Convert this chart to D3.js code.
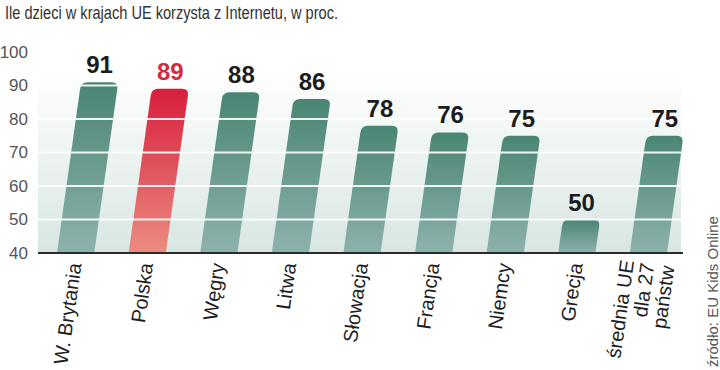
<!DOCTYPE html>
<html>
<head>
<meta charset="utf-8">
<script src="https://cdn.jsdelivr.net/npm/d3@7"></script>
<style>
  html, body { margin: 0; padding: 0; background: #fff; }
  svg { display: block; }
</style>
</head>
<body>
<svg id="chart" width="720" height="370"></svg>
<script>
const title = "Ile dzieci w krajach UE korzysta z Internetu, w proc.";
const categories = ["W. Brytania", "Polska", "Węgry", "Litwa", "Słowacja", "Francja", "Niemcy", "Grecja", "średnia UE\ndla 27\npaństw"];
const values = [91, 89, 88, 86, 78, 76, 75, 50, 75];
const highlight = ["Polska"];
const yTicks = [40, 50, 60, 70, 80, 90, 100];
const gridValues = [50, 60, 70, 80, 90];
const source = "źródło: EU Kids Online";

const svg = d3.select("#chart");
const skewDeg = 8;
const tanS = Math.tan(skewDeg * Math.PI / 180);
const FONT = "Liberation Sans, Arial, sans-serif";

const y = d3.scaleLinear().domain([40, 100]).range([253, 52]);
const x = d3.scaleBand().domain(categories).range([57, 667]).paddingInner(0.48).paddingOuter(0);

const defs = svg.append("defs");
const bg = defs.append("linearGradient").attr("id", "bgGrad").attr("x1", 0).attr("y1", 0).attr("x2", 0).attr("y2", 1);
bg.append("stop").attr("offset", "0%").attr("stop-color", "#ffffff");
bg.append("stop").attr("offset", "100%").attr("stop-color", "#d8e6e2");

const gTeal = defs.append("linearGradient").attr("id", "tealGrad").attr("x1", 0).attr("y1", 0).attr("x2", 0).attr("y2", 1);
gTeal.append("stop").attr("offset", "0%").attr("stop-color", "#4a8574");
gTeal.append("stop").attr("offset", "100%").attr("stop-color", "#8db2ac");

const gRed = defs.append("linearGradient").attr("id", "redGrad").attr("x1", 0).attr("y1", 0).attr("x2", 0).attr("y2", 1);
gRed.append("stop").attr("offset", "0%").attr("stop-color", "#d81f3d");
gRed.append("stop").attr("offset", "100%").attr("stop-color", "#eb8c80");

// title
svg.append("text")
  .attr("x", 5).attr("y", 19)
  .attr("font-family", FONT)
  .attr("font-size", 19)
  .attr("fill", "#333")
  .attr("textLength", 333)
  .attr("lengthAdjust", "spacingAndGlyphs")
  .text(title);

// plot background
const plotL = 38, plotR = 681;
svg.append("rect")
  .attr("x", plotL).attr("y", y(95))
  .attr("width", plotR - plotL).attr("height", y(40) - y(95))
  .attr("fill", "url(#bgGrad)");

// bars
const yb = y(40);
const r = 6.5;
const barG = svg.append("g")
  .attr("transform", `translate(0,${yb}) skewX(${-skewDeg}) translate(0,${-yb})`);

barG.selectAll("path.bar")
  .data(categories)
  .join("path")
  .attr("class", "bar")
  .attr("fill", (d) => highlight.includes(d) ? "url(#redGrad)" : "url(#tealGrad)")
  .attr("d", (d, i) => {
    const x0 = x(d), w = x.bandwidth(), yt = y(values[i]);
    return `M${x0},${yb} L${x0},${yt + r} Q${x0},${yt} ${x0 + r},${yt} L${x0 + w - r},${yt} Q${x0 + w},${yt} ${x0 + w},${yt + r} L${x0 + w},${yb} Z`;
  });

// grid lines (over bars)
svg.append("g").selectAll("line")
  .data(gridValues)
  .join("line")
  .attr("x1", plotL).attr("x2", plotR)
  .attr("y1", (d) => y(d)).attr("y2", (d) => y(d))
  .attr("stroke", "#ffffff").attr("stroke-opacity", 0.9).attr("stroke-width", 2);

// baseline axis
svg.append("line")
  .attr("x1", plotL).attr("x2", 683)
  .attr("y1", yb).attr("y2", yb)
  .attr("stroke", "#2b2b2b").attr("stroke-width", 2);

// y axis labels
const yAxis = svg.append("g")
  .attr("transform", "translate(30,0)")
  .call(d3.axisLeft(y).tickValues(yTicks).tickSize(0).tickPadding(2));
yAxis.select(".domain").remove();
yAxis.selectAll("text")
  .attr("font-family", FONT)
  .attr("font-size", 17)
  .attr("fill", "#555");

// value labels
svg.append("g").selectAll("text")
  .data(categories)
  .join("text")
  .attr("x", (d, i) => x(d) + x.bandwidth() / 2 + (yb - y(values[i])) * tanS)
  .attr("y", (d, i) => y(values[i]) - 9)
  .attr("text-anchor", "middle")
  .attr("font-family", FONT)
  .attr("font-weight", "bold")
  .attr("font-size", 24)
  .attr("fill", (d) => highlight.includes(d) ? "#d42a40" : "#1c1c1c")
  .text((d, i) => values[i]);

// category labels
const lab = svg.append("g").selectAll("text")
  .data(categories)
  .join("text")
  .attr("transform", (d) => `translate(${x(d) + x.bandwidth() / 2 - 1},263) rotate(${-90 + skewDeg})`)
  .attr("text-anchor", "end")
  .attr("font-family", FONT)
  .attr("font-size", 20)
  .attr("fill", "#1f1f1f");
lab.each(function (d) {
  const lines = d.split("\n");
  const t = d3.select(this);
  const off = (lines.length - 1) / 2;
  lines.forEach((ln, k) => {
    t.append("tspan")
      .attr("x", 0)
      .attr("y", 0)
      .attr("dy", ((k - off) * 1.02 + 0.35) + "em")
      .text(ln);
  });
});

// source
svg.append("text")
  .attr("transform", "translate(718,367) rotate(-90)")
  .attr("font-family", FONT)
  .attr("font-size", 15)
  .attr("fill", "#555")
  .text(source);
</script>
</body>
</html>
